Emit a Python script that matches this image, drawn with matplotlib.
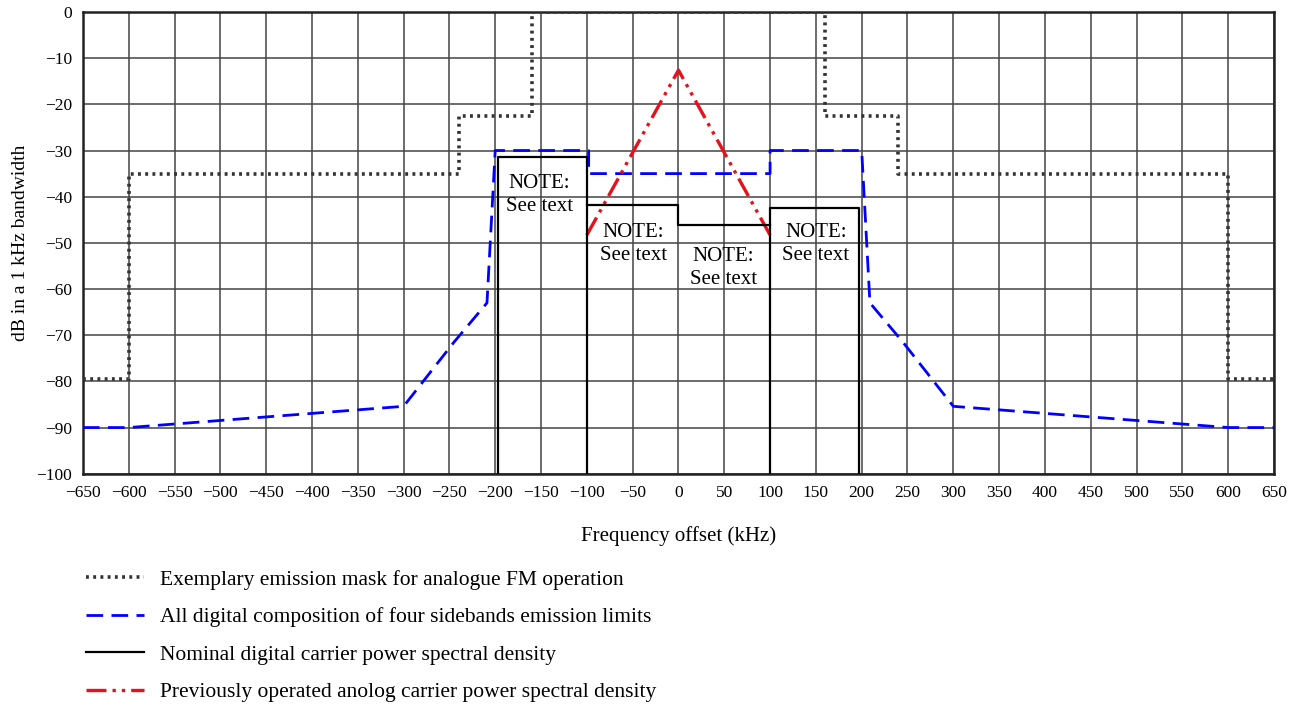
import matplotlib.pyplot as plt
import numpy as np

plt.rcParams['font.family'] = ['Liberation Serif', 'DejaVu Serif']
plt.rcParams['axes.unicode_minus'] = True

# Exemplary emission mask for analogue FM operation
fm_x = [-650, -600, -600, -240, -240, -160, -160, 160, 160, 240, 240, 600, 600, 650]
fm_y = [-79.5, -79.5, -35, -35, -22.5, -22.5, 0, 0, -22.5, -22.5, -35, -35, -79.5, -79.5]

# All digital composition of four sidebands emission limits
dig_x = [-650, -600, -300, -245, -209, -200, -98, -98, 100, 100, 200, 209, 245, 300, 600, 650]
dig_y = [-90, -90, -85.4, -71.5, -63, -30, -30, -35, -35, -30, -30, -63, -71.5, -85.4, -90, -90]

# Nominal digital carrier power spectral density (three pieces)
nom_x = [[-197, -197, -100, -100], [-100, 0, 0, 100], [100, 100, 197, 197]]
nom_y = [[-100, -31.5, -31.5, -100], [-41.8, -41.8, -46.2, -46.2], [-100, -42.4, -42.4, -100]]

# Previously operated analog carrier power spectral density
ana_x = [-100, 0, 100]
ana_y = [-48.3, -12.6, -48.3]

# NOTE labels
note_x = [-152, -49, 49, 150]
note_y = [-39.7, -50.2, -55.4, -50.2]

fig = plt.figure(figsize=(12.96, 7.06), dpi=100)
ax = fig.add_axes([0.064, 0.329, 0.919, 0.654])

ax.plot(fm_x, fm_y, color='#333333', lw=2.6, linestyle=(0, (0.8, 1.2)),
        label='Exemplary emission mask for analogue FM operation', zorder=3)
ax.plot(dig_x, dig_y, color='#0000ff', lw=2.0, linestyle=(0, (6, 3)),
        label='All digital composition of four sidebands emission limits', zorder=3)
for i, (xs, ys) in enumerate(zip(nom_x, nom_y)):
    ax.plot(xs, ys, color='black', lw=1.6,
            label='Nominal digital carrier power spectral density' if i == 0 else None,
            zorder=4)
ax.plot(ana_x, ana_y, color='#e8101a', lw=2.4, linestyle=(0, (6, 1.8, 1, 1.8, 1, 1.8)),
        label='Previously operated anolog carrier power spectral density', zorder=3)

for x, y in zip(note_x, note_y):
    ax.text(x, y, 'NOTE:\nSee text', ha='center', va='center', fontsize=15,
            linespacing=1.3, zorder=5)

ax.set_xlim(-650, 650)
ax.set_ylim(-100, 0)
ax.set_xticks(np.arange(-650, 651, 50))
ax.set_yticks(np.arange(-100, 1, 10))
ax.tick_params(length=0, labelsize=12.5, pad=8)
ax.grid(True, color='#444444', lw=1.1)
ax.set_axisbelow(True)
for s in ax.spines.values():
    s.set_linewidth(1.8)
    s.set_color('#222222')

ax.set_xlabel('Frequency offset (kHz)', fontsize=15, labelpad=18)
ax.set_ylabel('dB in a 1 kHz bandwidth', fontsize=14, labelpad=5)

fig.legend(loc='upper left', bbox_to_anchor=(0.066, 0.193), frameon=False,
           fontsize=15.5, handlelength=2.7, handletextpad=0.75, labelspacing=0.81,
           borderaxespad=0, borderpad=0)

fig.savefig('out.png', dpi=100)
